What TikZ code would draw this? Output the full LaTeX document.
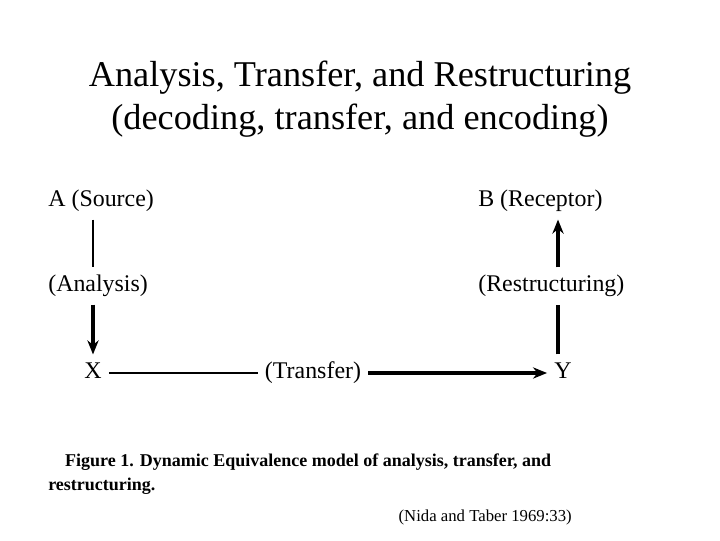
\documentclass[tikz,border=0pt]{standalone}
\usepackage{fontspec}
\setmainfont{Liberation Serif}
\usetikzlibrary{arrows.meta}
\begin{document}
\begin{tikzpicture}[x=0.025cm,y=-0.025cm,line join=round,>={Stealth[length=10pt,width=8pt]},
	lbl/.style={inner sep=5pt,text height=12pt,text depth=4pt,font=\fontsize{17}{20}\selectfont},
	link/.style={line width=1.4pt},
	flow/.style={->,line width=2.2pt}]
	\useasboundingbox (0,0) rectangle (720,540);
	\node[align=center,font=\fontsize{25.8}{31}\selectfont] (title) at (360,99)
		{Analysis, Transfer, and Restructuring\\(decoding, transfer, and encoding)};
	\node[lbl,anchor=west] (src) at (41,201) {A (Source)};
	\node[lbl,anchor=west] (rcp) at (471,201) {B (Receptor)};
	\node[lbl,anchor=west] (ana) at (41,286) {(Analysis)};
	\node[lbl,anchor=west] (rst) at (471,286) {(Restructuring)};
	\node[lbl] (x) at (93,373) {X};
	\node[lbl] (trn) at (313,373) {(Transfer)};
	\node[lbl] (y) at (563,373) {Y};
	\coordinate (ry) at (558,373);
	\draw[link] (src.south -| x) -- (ana.north -| x);
	\draw[flow] (ana.south -| x) -- (x.north);
	\draw[link] (x.east) -- (trn.west);
	\draw[flow] (trn.east) -- (y.west);
	\draw[line width=2.2pt] (y.north -| ry) -- (rst.south -| ry);
	\draw[flow] (rst.north -| ry) -- (rcp.south -| ry);
	\node[anchor=north west,align=left,inner sep=0pt,font=\bfseries\fontsize{12.8}{17}\selectfont] (cap) at (48,454)
		{\hspace*{12pt}Figure 1. Dynamic Equivalence model of analysis, transfer, and\\restructuring.};
	\node[anchor=east,inner sep=0pt,font=\fontsize{11.9}{14}\selectfont] (ref) at (572,517) {(Nida and Taber 1969:33)};
\end{tikzpicture}
\end{document}
